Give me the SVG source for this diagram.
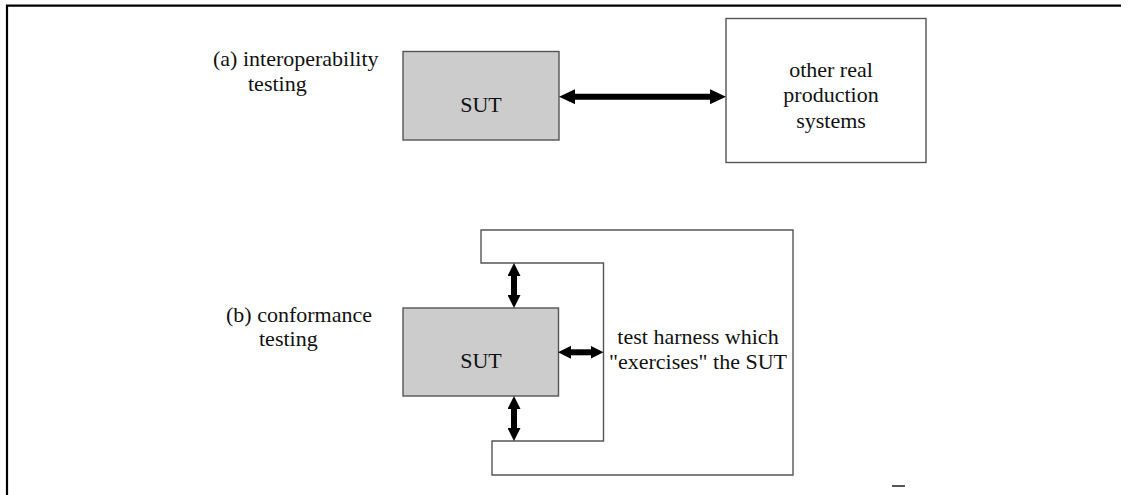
<svg xmlns="http://www.w3.org/2000/svg" width="1130" height="495" viewBox="0 0 1130 495">
<defs>
<style>
.t{font-family:"Liberation Serif","Times New Roman",serif;font-size:22px;fill:#111}
.m{text-anchor:middle}
.box{stroke:#555;stroke-width:1.4}
.sut{fill:#cccccc}
.plain{fill:#ffffff}
.thick{stroke:#000;stroke-width:6;fill:none}
</style>
<marker id="ah" markerUnits="userSpaceOnUse" markerWidth="16" markerHeight="15" viewBox="0 0 16 15" refX="6" refY="7.5" orient="auto-start-reverse">
<path d="M0,0 L16,7.5 L0,15 z" fill="#000"/>
</marker>
<marker id="ahs" markerUnits="userSpaceOnUse" markerWidth="13" markerHeight="13" viewBox="0 0 13 13" refX="5" refY="6.5" orient="auto-start-reverse">
<path d="M0,0 L13,6.5 L0,13 z" fill="#000"/>
</marker>
</defs>
<rect width="1130" height="495" fill="#fff"/>
<path d="M7,495 V5.7 H1121" fill="none" stroke="#000" stroke-width="2.2"/>
<line x1="892" y1="486" x2="905" y2="486" stroke="#555" stroke-width="2"/>

<g id="label-a">
<text class="t" x="213" y="65.5">(a) interoperability</text>
<text class="t" x="248" y="90.5">testing</text>
</g>
<g id="sut-a">
<rect class="box sut" x="403" y="51.5" width="156" height="88.5"/>
<text class="t m" x="481" y="111.5">SUT</text>
</g>
<g id="other-systems">
<rect class="box plain" x="726" y="18.5" width="200" height="144"/>
<text class="t m" x="831" y="77">other real</text>
<text class="t m" x="831" y="102">production</text>
<text class="t m" x="831" y="127.5">systems</text>
</g>

<g id="label-b">
<text class="t" x="226" y="321.5">(b) conformance</text>
<text class="t" x="259" y="346">testing</text>
</g>
<g id="harness">
<path class="box plain" d="M481,230 H793 V475 H492 V441 H603.5 V263 H481 Z"/>
<text class="t m" x="698" y="344">test harness which</text>
<text class="t m" x="698" y="368.5">"exercises" the SUT</text>
</g>
<g id="sut-b">
<rect class="box sut" x="403" y="308" width="155.5" height="88"/>
<text class="t m" x="481" y="367.5">SUT</text>
</g>

<g id="connectors">
<line class="thick" x1="569" y1="96.7" x2="716" y2="96.7" marker-start="url(#ah)" marker-end="url(#ah)"/>
<line class="thick" x1="514" y1="271" x2="514" y2="300" marker-start="url(#ahs)" marker-end="url(#ahs)"/>
<line class="thick" x1="514" y1="404" x2="514" y2="433" marker-start="url(#ahs)" marker-end="url(#ahs)"/>
<line class="thick" x1="566" y1="352.3" x2="595.5" y2="352.3" marker-start="url(#ahs)" marker-end="url(#ahs)"/>
</g>
</svg>
